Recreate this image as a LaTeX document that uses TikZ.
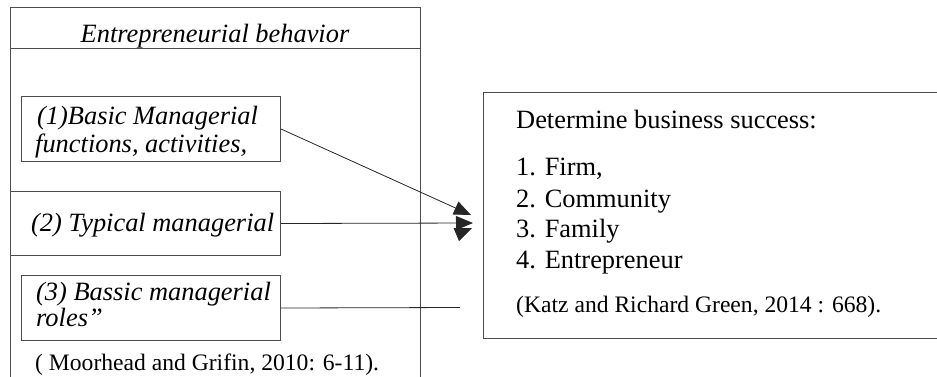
\documentclass[tikz,border=0pt]{standalone}
\usepackage{fontspec}
\setmainfont{Liberation Serif}
\usetikzlibrary{arrows.meta,calc}
\begin{document}
\begin{tikzpicture}[x=1pt,y=-1pt,
  bigtxt/.style={font=\fontsize{26.4}{30}\selectfont, inner sep=0pt, anchor=base west},
  smalltxt/.style={font=\fontsize{23.6}{28}\selectfont, inner sep=0pt, anchor=base west},
  frame/.style={draw=black!70, line width=1pt, inner sep=0pt, anchor=north west},
  conn/.style={draw=black!85, line width=0.8pt},
  head/.style={-{Triangle[length=17pt,width=14pt]}}
]
\useasboundingbox (0,0) rectangle (937,376);
% outer box (runs past the bottom edge)
\node[frame, minimum width=410pt, minimum height=390pt] (outer) at (10,7) {};
\coordinate (hl) at (10,48);
\coordinate (hr) at (420,48);
\draw[draw=black!70, line width=1pt] (hl) -- (hr);
\node[bigtxt, anchor=base] (title) at (215,42) {\itshape Entrepreneurial behavior};
% inner boxes
\node[frame, minimum width=259pt, minimum height=65pt] (b1) at (21,96) {};
\node[frame, minimum width=270pt, minimum height=64pt] (b2) at (10,191) {};
\node[frame, minimum width=259pt, minimum height=65pt] (b3) at (21,275) {};
\node[bigtxt] (t1a) at (37,124) {\itshape (1)Basic Managerial};
\node[bigtxt] (t1b) at (35,152) {\itshape functions, activities,};
\node[bigtxt] (t2) at (31,231) {\itshape (2) Typical managerial};
\node[bigtxt] (t3a) at (36,300) {\itshape (3) Bassic managerial};
\node[bigtxt] (t3b) at (36,326) {\itshape roles”};
\node[smalltxt] (cite1) at (35,370) {( Moorhead and Grifin, 2010: 6-11).};
% right box (runs past the right edge)
\node[frame, minimum width=470pt, minimum height=246pt] (rb) at (483,92) {};
\node[bigtxt] (d) at (516,128) {Determine business success:};
\node[bigtxt] (i1) at (516,175) {1. Firm,};
\node[bigtxt] (i2) at (516,207) {2. Community};
\node[bigtxt] (i3) at (516,237) {3. Family};
\node[bigtxt] (i4) at (516,268) {4. Entrepreneur};
\node[smalltxt] (cite2) at (516,312) {(Katz and Richard Green, 2014 : 668).};
% connectors
\coordinate (tip1) at (471,215);
\coordinate (tip2) at (473,223);
\coordinate (end3) at (460,307.5);
\coordinate (tip3) at (472,228);
\draw[conn, head] (b1.east) -- (tip1);
\draw[conn, head] (b2.east) -- (tip2);
\draw[conn] (b3.east) -- (end3);
\draw[conn, head] ($(tip3)!17pt!(b3.east)$) -- (tip3);
\end{tikzpicture}
\end{document}
